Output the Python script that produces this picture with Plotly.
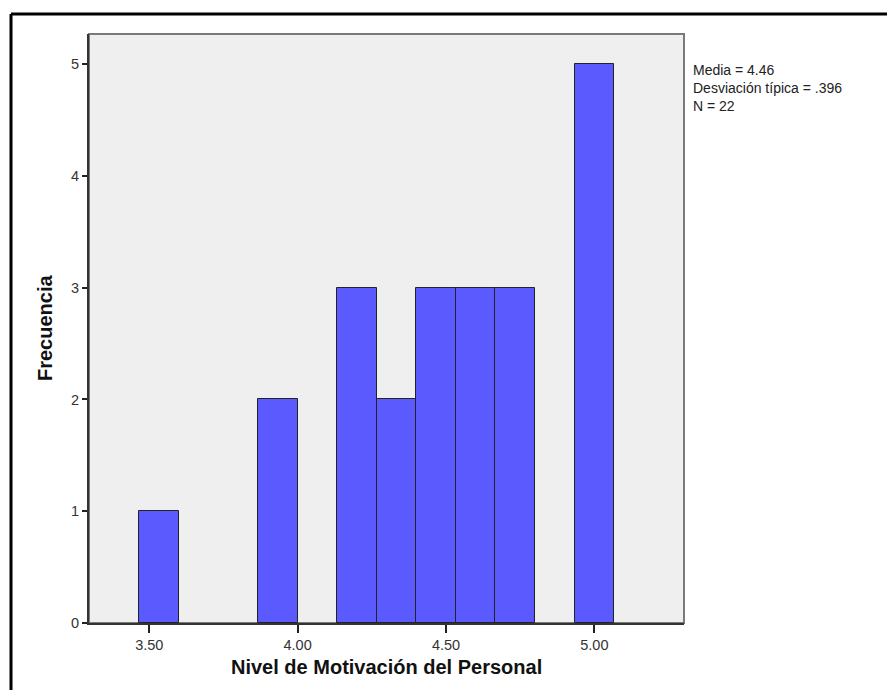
import plotly.graph_objects as go

# Histogram bins (SPSS-like), bin width = 2/15
bin_centers = [3.5333, 3.9333, 4.2, 4.3333, 4.4667, 4.6, 4.7333, 5.0]
counts = [1, 2, 3, 2, 3, 3, 3, 5]
bin_width = 0.13333

x_tickvals = [3.5, 4.0, 4.5, 5.0]
x_ticktext = ["3.50", "4.00", "4.50", "5.00"]
y_tickvals = [0, 1, 2, 3, 4, 5]

x_title = "Nivel de Motivación del Personal"
y_title = "Frecuencia"
stats_lines = ["Media = 4.46", "Desviación típica = .396", "N = 22"]

# page has an 8px body margin; work in page coordinates and shift
OFF = 8
W, H = 895 - OFF, 690 - OFF
L, R, T, B = 89 - OFF, 684 - OFF, 34 - OFF, 623 - OFF

def px_to_paper_x(px):
    return (px - OFF - L) / (R - L)

def px_to_paper_y(py):
    return (B - (py - OFF)) / (B - T)

fig = go.Figure()
fig.add_trace(go.Bar(
    x=bin_centers, y=counts, width=[bin_width] * len(counts),
    marker=dict(color="#5A5AFF", line=dict(color="#222222", width=1)),
    showlegend=False, hoverinfo="x+y",
))

font_family = "Liberation Sans, Arial, sans-serif"

fig.update_layout(
    width=W, height=H,
    margin=dict(l=L, r=W - R, t=T, b=H - B, pad=0),
    paper_bgcolor="white",
    plot_bgcolor="#EFEFEF",
    font=dict(family=font_family, color="#222222"),
    bargap=0,
    xaxis=dict(
        range=[3.297, 5.302], tickvals=x_tickvals, ticktext=x_ticktext,
        ticks="outside", ticklen=8, tickwidth=1.5, tickcolor="#222222",
        showline=True, linecolor="#333333", linewidth=2,
        showgrid=False, zeroline=False,
        tickfont=dict(size=14.5, color="#333333"),
    ),
    yaxis=dict(
        range=[0, 5.27], tickvals=y_tickvals,
        ticks="outside", ticklen=5, tickwidth=1.5, tickcolor="#222222",
        showline=True, linecolor="#333333", linewidth=2,
        showgrid=False, zeroline=False,
        tickfont=dict(size=14.5, color="#333333"),
    ),
)

# gray frame for top/right of plot area
fig.add_shape(type="rect", xref="paper", yref="paper", x0=0, x1=1, y0=0, y1=1,
              line=dict(color="#7A7A7A", width=2), layer="below")

# outer black frame (left and top edges visible)
ox = px_to_paper_x(11)
oy = px_to_paper_y(14)
fig.add_shape(type="line", xref="paper", yref="paper", x0=ox, x1=ox,
              y0=oy, y1=px_to_paper_y(700), line=dict(color="black", width=3))
fig.add_shape(type="line", xref="paper", yref="paper", x0=ox, x1=px_to_paper_x(905),
              y0=oy, y1=oy, line=dict(color="black", width=3))

# axis titles
fig.add_annotation(text="<b>" + x_title + "</b>", xref="paper", yref="paper",
                   x=px_to_paper_x(386.5), y=px_to_paper_y(667),
                   xanchor="center", yanchor="middle", showarrow=False,
                   font=dict(size=20, color="#111111", family=font_family))
fig.add_annotation(text="<b>" + y_title + "</b>", xref="paper", yref="paper",
                   x=px_to_paper_x(45), y=px_to_paper_y(328), textangle=-90,
                   xanchor="center", yanchor="middle", showarrow=False,
                   font=dict(size=20, color="#111111", family=font_family))

# statistics text (one block)
fig.add_annotation(text="<br>".join(stats_lines), xref="paper", yref="paper",
                   x=px_to_paper_x(692), y=px_to_paper_y(88),
                   xanchor="left", yanchor="middle", align="left", showarrow=False,
                   borderpad=0,
                   font=dict(size=14, color="#222222", family=font_family))

fig.write_html("out.html")
